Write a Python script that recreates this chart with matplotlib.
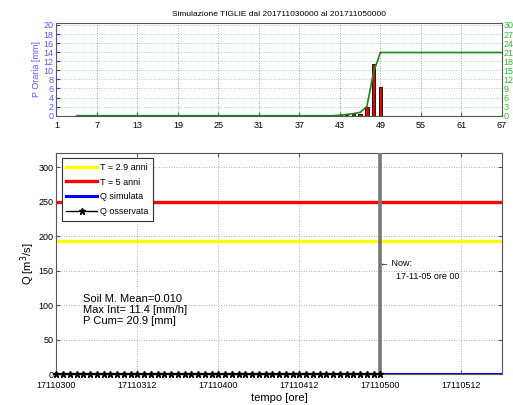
import numpy as np
import matplotlib
matplotlib.use('Agg')
import matplotlib.pyplot as plt

plt.rcParams['font.family'] = ['Liberation Sans', 'DejaVu Sans']

# precipitazione oraria (barre)
rain_hours = [43, 44, 45, 46, 47, 48, 49]
rain_mm = [0.2, 0.2, 0.3, 0.4, 2.0, 11.4, 6.4]

# pioggia cumulata (linea verde, asse destro)
cum_hours = [4, 42, 43, 44, 45, 46, 47, 48, 49, 67]
cum_mm = [0.0, 0.0, 0.2, 0.4, 0.7, 1.1, 3.1, 14.5, 20.9, 20.9]

# portate
q_obs_hours = list(range(0, 49))
q_obs = [0.0] * 49
q_sim_hours = [48, 66]
q_sim = [0.0, 0.0]
soglia_29 = 193
soglia_5 = 249
now_hour = 48

top_ticks = [1, 7, 13, 19, 25, 31, 37, 43, 49, 55, 61, 67]
left_ticks = [0, 2, 4, 6, 8, 10, 12, 14, 16, 18, 20]
right_ticks = [0, 3, 6, 9, 12, 15, 18, 21, 24, 27, 30]
q_ticks = [0, 50, 100, 150, 200, 250, 300]
time_ticks = [0, 12, 24, 36, 48, 60]
time_labels = ['17110300', '17110312', '17110400', '17110412', '17110500', '17110512']

blue_txt = '#5a5aff'
green = '#1a8a1a'
grey = '#555555'

fig = plt.figure(figsize=(5.13, 4.05), dpi=100)

# ---- pannello pioggia ----
ax1 = fig.add_axes([0.110, 0.7143, 0.8684, 0.2296])
ax1.bar(rain_hours, rain_mm, width=0.5, color='#ee0000', edgecolor='black', linewidth=0.6, zorder=3)
ax1.set_xlim(1, 67)
ax1.set_ylim(0, 20.5)
ax1.set_xticks(top_ticks)
ax1.set_yticks(left_ticks)
ax1.tick_params(axis='x', labelsize=6.5, direction='in', length=3, colors=grey, labelcolor='black', pad=4)
ax1.tick_params(axis='y', labelsize=6.5, direction='in', length=3, colors='#3333ff', labelcolor=blue_txt, pad=2, right=True)
ax1.set_ylabel('P Oraria [mm]', color=blue_txt, fontsize=6.5, labelpad=2)
ax1.xaxis.grid(True, linestyle=(0, (1, 2)), color='#888888', linewidth=0.6)
ax1.yaxis.grid(True, linestyle=(0, (1, 2)), color='#88cc88', linewidth=0.6)
ax1.set_axisbelow(True)
for s in ax1.spines.values():
    s.set_color(grey)
ax1.set_title('Simulazione TIGLIE dal 201711030000 al 201711050000', fontsize=6, pad=5)

ax1b = ax1.twinx()
ax1b.plot(cum_hours, cum_mm, color=green, linewidth=1.2)
ax1b.set_ylim(0, 30.75)
ax1b.set_yticks(right_ticks)
ax1b.tick_params(axis='y', labelsize=6.5, direction='in', length=0, labelcolor='#33bb33', pad=1)
for s in ax1b.spines.values():
    s.set_visible(False)

# ---- pannello portate ----
ax2 = fig.add_axes([0.110, 0.0758, 0.8684, 0.547])
ax2.axhline(soglia_29, color='#ffff00', linewidth=2.4, label='T = 2.9 anni')
ax2.axhline(soglia_5, color='#ff0000', linewidth=2.4, label='T = 5 anni')
ax2.plot(q_sim_hours, q_sim, color='#0000ff', linewidth=2.2, label='Q simulata', zorder=4)
ax2.plot(q_obs_hours, q_obs, color='black', linewidth=1.0, marker='*', markersize=4.5,
         label='Q osservata', zorder=5, clip_on=False)
ax2.axvline(now_hour, color='#777777', linewidth=2.6, zorder=3)
ax2.set_xlim(0, 66)
ax2.set_ylim(0, 321)
ax2.set_xticks(time_ticks)
ax2.set_xticklabels(time_labels)
ax2.set_yticks(q_ticks)
ax2.tick_params(labelsize=6.5, direction='in', length=3, colors=grey, labelcolor='black',
                top=True, right=True, pad=2)
ax2.tick_params(axis='x', pad=5)
ax2.grid(True, linestyle=(0, (1, 2)), color='#999999', linewidth=0.6)
for s in ax2.spines.values():
    s.set_color(grey)
ax2.set_ylabel('Q [m$^3$/s]', fontsize=8, labelpad=1)
ax2.set_xlabel('tempo [ore]', fontsize=8, labelpad=2)

ax2.text(4, 93, 'Soil M. Mean=0.010\nMax Int= 11.4 [mm/h]\nP Cum= 20.9 [mm]',
         fontsize=8, va='center', ha='left', linespacing=1.15)
ax2.text(now_hour, 161, '\u2190 Now:', fontsize=6.5, va='center', ha='left')
ax2.text(now_hour + 2.3, 142, '17-11-05 ore 00', fontsize=6.5, va='center', ha='left')

leg = ax2.legend(loc='upper left', fontsize=6.5, fancybox=False, framealpha=1,
                 edgecolor='#333333', handlelength=3.4, borderaxespad=0.6,
                 labelspacing=0.65, handletextpad=0.3, borderpad=0.5)
leg.get_frame().set_linewidth(0.8)

fig.savefig('out.png', dpi=100)
